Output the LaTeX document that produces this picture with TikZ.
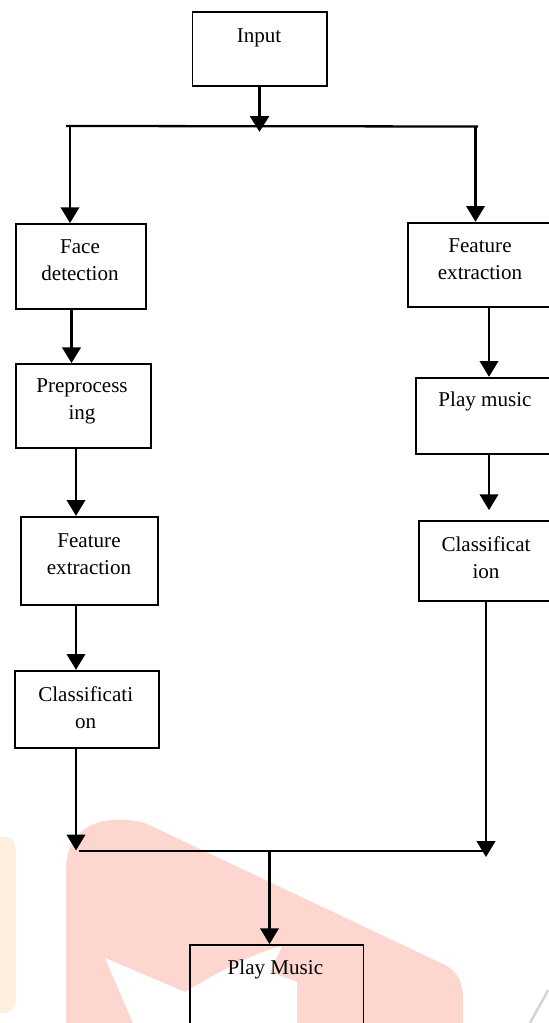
\documentclass[tikz,border=0pt]{standalone}
\usepackage{fontspec}
\setmainfont{Liberation Serif}
\usetikzlibrary{arrows.meta}
\definecolor{wmpink}{RGB}{253,214,207}
\definecolor{wmorange}{RGB}{255,239,222}
\definecolor{wmgray}{RGB}{214,214,214}

\begin{document}
\begin{tikzpicture}[x=0.02cm, y=-0.02cm,
  box/.style={draw, line width=1pt, inner sep=0pt},
  wh/.style 2 args={minimum width=#1*0.02cm, minimum height=#2*0.02cm},
  lbl/.style={align=center, inner sep=0pt, font=\fontsize{12}{15.3}\selectfont},
  arr/.style={-{Triangle[width=10.5pt,length=9pt]}, line width=1.3pt}]
\useasboundingbox (0,0) rectangle (548,1023);
% watermark
\fill[wmorange] (0,837) -- (6,837) .. controls (14,837) and (16,845) .. (16,855) -- (16,995) .. controls (16,1008) and (12,1013) .. (0,1013) -- cycle;
\fill[wmpink] (66,1023) -- (66,870) .. controls (66,828) and (100,812) .. (145,823) -- (445,965) .. controls (458,972) and (463,982) .. (463,1000) -- (463,1023) -- cycle;
\fill[white] (105,958) -- (185,992) .. controls (225,968) and (258,952) .. (282,946) -- (270,972) -- (297,982) -- (297,1023) -- (133,1023) -- cycle;
\draw[wmgray, line width=1.5pt] (530,1023) .. controls (538,1008) and (544,998) .. (548,990);
% boxes
\node[box, wh={134.5}{74}] (in) at (259.75,49) {};
\node[box, wh={130}{85}] (fd) at (80.7,266.5) {};
\node[box, wh={135}{83.7}] (pre) at (83.2,405.85) {};
\node[box, wh={136.7}{88.3}] (fel) at (89.35,560.85) {};
\node[box, wh={144}{77.6}] (cll) at (87,709.5) {};
\node[box, wh={145.3}{84}] (fer) at (480.35,264.7) {};
\node[box, wh={138}{76.3}] (pm) at (485,415.85) {};
\node[box, wh={134}{80}] (clr) at (486,561) {};
\node[box, wh={173.5}{95}] (fin) at (276.75,992.5) {};
% labels
\node[lbl] (tin) at (259,38) {Input};
\node[lbl] (tfd) at (80,260.4) {Face\\detection};
\node[lbl] (tpre) at (82,401.5) {Preprocess\\ing};
\node[lbl] (tfel) at (89,554.5) {Feature\\extraction};
\node[lbl] (tcll) at (85.7,707.5) {Classificati\\on};
\node[lbl] (tfer) at (480,259.2) {Feature\\extraction};
\node[lbl] (tpm) at (485,401.7) {Play music};
\node[lbl] (tclr) at (486,557.5) {Classificat\\ion};
\node[lbl] (tfin) at (275.4,969.3) {Play Music};
% split and merge points
\coordinate (sp) at (259.5,132);
\coordinate (sl) at (66,126); \coordinate (sr) at (478,126.5);
\coordinate (bl) at (70,126); \coordinate (br) at (475.5,126.5);
\coordinate (c1) at (71.5,0); \coordinate (c2) at (76,0);
\coordinate (c3) at (489,0); \coordinate (c4) at (486,0);
\coordinate (ml) at (76,850.5); \coordinate (mr) at (486,857);
\coordinate (ma) at (78.6,851); \coordinate (mb) at (486,851);
\coordinate (mc) at (269.5,851);
% arrows
\draw[arr, line width=2.2pt] (in.south -| sp) -- (sp);
\draw[line width=1.3pt] (sl) -- (sr);
\draw[arr] (bl) -- (bl |- fd.north);
\draw[arr] (br) -- (br |- fer.north);
\draw[arr, line width=1.7pt] (fd.south -| c1) -- (pre.north -| c1);
\draw[arr] (pre.south -| c2) -- (fel.north -| c2);
\draw[arr] (fel.south -| c2) -- (cll.north -| c2);
\draw[arr] (cll.south -| c2) -- (ml);
\draw[arr] (fer.south -| c3) -- (pm.north -| c3);
\draw[arr, shorten >=0.2cm] (pm.south -| c3) -- (clr.north -| c3);
\draw[arr] (clr.south -| c4) -- (mr);
\draw[line width=1.3pt] (ma) -- (mb);
\draw[arr] (mc) -- (mc |- fin.north);
\end{tikzpicture}
\end{document}
